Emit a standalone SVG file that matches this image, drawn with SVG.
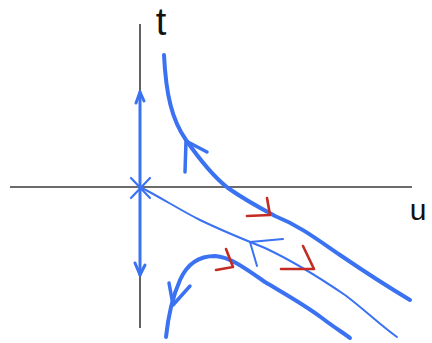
<svg xmlns="http://www.w3.org/2000/svg" width="432" height="343" viewBox="0 0 432 343">
<style>
.ax{stroke:#3a3a3a;stroke-width:1.6;fill:none}
.b{stroke:#3b72f2;fill:none;stroke-linecap:round;stroke-linejoin:round}
.r{stroke:#c42b22;fill:none;stroke-width:2.6;stroke-linecap:round;stroke-linejoin:round}
.lbl{font-family:"Liberation Sans",Arial,sans-serif;fill:#111}
</style>
<rect width="432" height="343" fill="#fff"/>
<g id="axes">
<line class="ax" x1="140" y1="24" x2="140" y2="328"/>
<line class="ax" x1="10" y1="187" x2="412" y2="187"/>
<text class="lbl" x="161" y="35" font-size="38" text-anchor="middle">t</text>
<text class="lbl" x="418" y="220" font-size="30" text-anchor="middle">u</text>
</g>
<g id="trajectories">
<path class="b" stroke-width="3" d="M140,187 L140,92"/>
<path class="b" stroke-width="3" d="M136,103 L140,92 L144,101"/>
<path class="b" stroke-width="3" d="M140,187 L140,275"/>
<path class="b" stroke-width="3" d="M135,263 L140,275 L145,265"/>
<path class="b" stroke-width="2.2" d="M131,178 L150,198 M150,178 L131,198"/>
<path class="b" stroke-width="4" d="M164,55 C166,95 172,120 186,140 C200,160 215,178 228,188 C245,200 260,208 275,216 C300,226 318,240 340,255 C365,272 390,288 410,300"/>
<path class="b" stroke-width="3.5" d="M185,172 L186,141 L207,152"/>
<path class="b" stroke-width="2" d="M140,187 C160,197 180,210 200,220 C225,232 245,240 265,248 C295,262 320,278 345,295 C365,310 380,325 397,337"/>
<path class="b" stroke-width="2" d="M283,239 L250,242 L257,266"/>
<path class="b" stroke-width="4" d="M166,337 C168,318 172,298 180,280 C188,262 200,256 215,256 C230,257 245,268 265,282 C285,294 305,305 322,318 C335,328 345,334 350,338"/>
<path class="b" stroke-width="3.5" d="M169,283 L173,305 L190,286"/>
</g>
<g id="red-marks">
<path class="r" d="M267,198 L270,215 L247,216"/>
<path class="r" d="M226,249 L233,267 L216,270"/>
<path class="r" d="M303,246 L314,269 L281,269"/>
</g>
</svg>
